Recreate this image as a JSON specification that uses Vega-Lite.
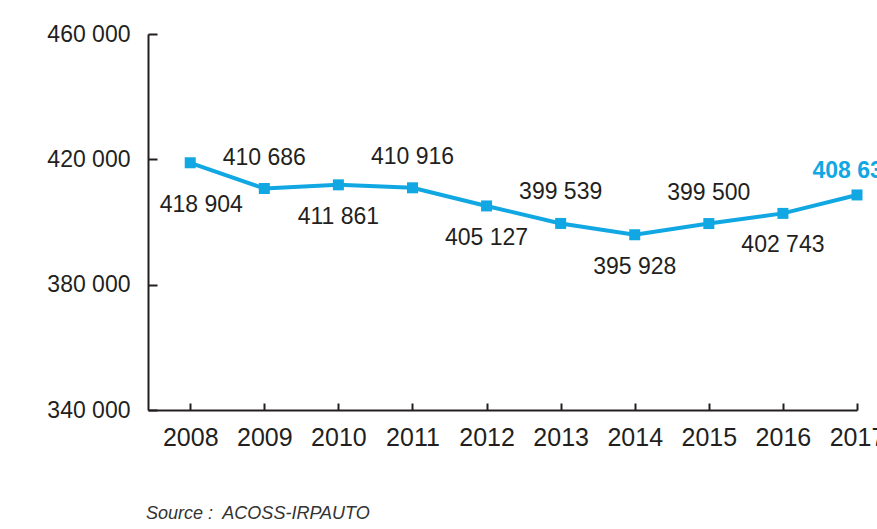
{
  "$schema": "https://vega.github.io/schema/vega-lite/v6.json",
  "autosize": {"type": "none"},
  "width": 709,
  "height": 376,
  "padding": {"left": 148, "top": 34, "right": 20, "bottom": 119},
  "background": "white",
  "config": {
    "view": {"stroke": null},
    "font": "Liberation Sans",
    "locale": {"number": {"decimal": ",", "thousands": " ", "grouping": [3], "currency": ["", " €"]}},
    "axis": {"grid": false, "domainColor": "#231f20", "domainWidth": 2, "tickColor": "#231f20", "tickWidth": 2, "labelColor": "#231f20", "labelFont": "Liberation Sans", "title": null}
  },
  "title": {"text": "Source :\u00a0 ACOSS-IRPAUTO", "orient": "bottom", "anchor": "start", "frame": "group", "font": "Liberation Sans", "fontSize": 18, "fontStyle": "italic", "fontWeight": "normal", "color": "#333333", "offset": 55, "dx": -2},
  "data": {"values": [
    {"year": 2008, "value": 418904},
    {"year": 2009, "value": 410686},
    {"year": 2010, "value": 411861},
    {"year": 2011, "value": 410916},
    {"year": 2012, "value": 405127},
    {"year": 2013, "value": 399539},
    {"year": 2014, "value": 395928},
    {"year": 2015, "value": 399500},
    {"year": 2016, "value": 402743},
    {"year": 2017, "value": 408634}
  ]},
  "encoding": {
    "x": {"field": "year", "type": "quantitative",
      "scale": {"domain": [2007.43, 2017], "nice": false, "zero": false},
      "axis": {"values": [2008, 2009, 2010, 2011, 2012, 2013, 2014, 2015, 2016, 2017], "format": "d", "labelFontSize": 25, "labelFlush": false, "labelOverlap": false, "tickSize": -7, "labelPadding": 22}},
    "y": {"field": "value", "type": "quantitative",
      "scale": {"domain": [340000, 460000], "nice": false, "zero": false},
      "axis": {"values": [340000, 380000, 420000, 460000], "format": ",d", "labelFontSize": 23, "tickSize": -9, "labelPadding": 27}}
  },
  "layer": [
    {"mark": {"type": "line", "color": "#11a7e2", "strokeWidth": 4}},
    {"mark": {"type": "point", "shape": "square", "filled": true, "opacity": 1, "size": 121, "color": "#11a7e2"}},
    {"transform": [{"filter": "datum.year == 2008"}],
      "mark": {"type": "text", "fontSize": 23, "color": "#231f20", "dy": 42, "dx": 11, "baseline": "middle"},
      "encoding": {"text": {"field": "value", "type": "quantitative", "format": ",d"}}},
    {"transform": [{"filter": "datum.year % 2 == 0 && datum.year > 2008"}],
      "mark": {"type": "text", "fontSize": 23, "color": "#231f20", "dy": 32, "baseline": "middle"},
      "encoding": {"text": {"field": "value", "type": "quantitative", "format": ",d"}}},
    {"transform": [{"filter": "datum.year % 2 == 1 && datum.year < 2017"}],
      "mark": {"type": "text", "fontSize": 23, "color": "#231f20", "dy": -31, "baseline": "middle"},
      "encoding": {"text": {"field": "value", "type": "quantitative", "format": ",d"}}},
    {"transform": [{"filter": "datum.year == 2017"}],
      "mark": {"type": "text", "fontSize": 23, "fontWeight": "bold", "color": "#11a7e2", "dy": -24, "dx": -3, "baseline": "middle"},
      "encoding": {"text": {"field": "value", "type": "quantitative", "format": ",d"}}}
  ]
}
